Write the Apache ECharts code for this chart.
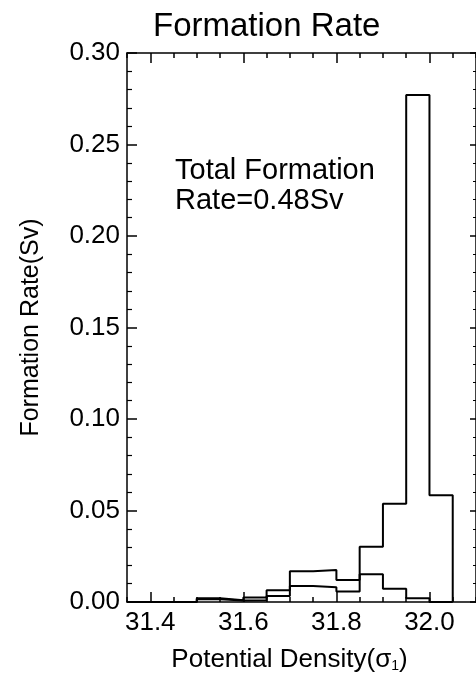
<!DOCTYPE html>
<html>
<head>
<meta charset="utf-8">
<script src="https://cdn.jsdelivr.net/npm/echarts@6/dist/echarts.min.js"></script>
<style>
html,body{margin:0;padding:0;background:#fff;}
#chart{width:476px;height:679px;}
</style>
</head>
<body>
<div id="chart"></div>
<script>
// ---- data ----
const binStarts = [31.35, 31.40, 31.45, 31.50, 31.55, 31.60, 31.65, 31.70, 31.75, 31.80, 31.85, 31.90, 31.95, 32.00];
const binWidth = 0.05;
const totalRate = [0, 0, 0, 0.002, 0.001, 0.0025, 0.0064, 0.0168, 0.0175, 0.012, 0.0302, 0.0537, 0.277, 0.0584];
const partRate  = [0, 0, 0, 0.0015, 0.0008, 0.001, 0.0033, 0.0087, 0.008, 0.0058, 0.0152, 0.0072, 0.002, 0];
const xMajorTicks = [31.4, 31.6, 31.8, 32.0];
const xMinorTicks = [31.35, 31.4, 31.45, 31.5, 31.55, 31.6, 31.65, 31.7, 31.75, 31.8, 31.85, 31.9, 31.95, 32.0, 32.05, 32.1];
const xMin = 31.35, xMax = 32.1;
const yMin = 0, yMax = 0.30, yStep = 0.05;

function stepData(vals) {
  const d = binStarts.map((x, i) => [x, vals[i]]);
  d.push([binStarts[binStarts.length - 1] + binWidth, 0]);
  return d;
}

const FONT = 'Liberation Sans';
const black = '#000';

const chart = echarts.init(document.getElementById('chart'), null, {renderer: 'canvas'});

function xAxisDef(pos, major, withLabel) {
  return {
    type: 'value', position: pos, min: xMin, max: xMax, gridIndex: 0,
    axisLine: {show: major, lineStyle: {color: black, width: 1.5}},
    axisTick: {show: true, inside: true, length: major ? 10 : 5, customValues: major ? xMajorTicks : xMinorTicks,
               lineStyle: {color: black, width: 1.5}},
    axisLabel: withLabel ? {show: true, customValues: xMajorTicks, formatter: v => v.toFixed(1),
               fontFamily: FONT, fontSize: 26, color: black, margin: 8} : {show: false},
    splitLine: {show: false},
    name: withLabel ? 'Potential Density(σ{sub|1})' : '',
    nameLocation: 'middle', nameGap: 45,
    nameTextStyle: {fontFamily: FONT, fontSize: 26, color: black, padding: [0, 24, 0, 0],
      rich: {sub: {fontFamily: FONT, fontSize: 14, color: black, verticalAlign: 'bottom', padding: [10, 0, 0, 0]}}}
  };
}

const option = {
  backgroundColor: '#fff',
  animation: false,
  title: {
    text: 'Formation Rate', left: 148, top: 5,
    textStyle: {fontFamily: FONT, fontSize: 33, fontWeight: 'normal', color: black}
  },
  grid: {left: 127, right: -5, top: 53, bottom: 77, containLabel: false},
  xAxis: [
    xAxisDef('bottom', true, true),
    xAxisDef('bottom', false, false),
    xAxisDef('top', true, false),
    xAxisDef('top', false, false)
  ],
  yAxis: [
    {
      type: 'value', position: 'left', min: yMin, max: yMax, interval: yStep,
      axisLine: {show: true, lineStyle: {color: black, width: 1.5}},
      axisTick: {show: true, inside: true, length: 10, lineStyle: {color: black, width: 1.5}},
      minorTick: {show: true, splitNumber: 5, length: 5, lineStyle: {color: black, width: 1.2}},
      axisLabel: {formatter: v => v.toFixed(2), fontFamily: FONT, fontSize: 26, color: black, margin: 7},
      splitLine: {show: false},
      name: 'Formation Rate(Sv)', nameLocation: 'middle', nameGap: 83,
      nameTextStyle: {fontFamily: FONT, fontSize: 25, color: black}
    },
    {
      type: 'value', position: 'right', min: yMin, max: yMax, interval: yStep,
      axisLine: {show: true, lineStyle: {color: black, width: 1.5}},
      axisTick: {show: true, inside: true, length: 6, lineStyle: {color: black, width: 1.5}},
      minorTick: {show: true, splitNumber: 5, length: 3, lineStyle: {color: black}},
      axisLabel: {show: false},
      splitLine: {show: false}
    }
  ],
  graphic: [{
    type: 'text', left: 175, top: 156,
    style: {text: 'Total Formation\nRate=0.48Sv', font: '29px "Liberation Sans"', lineHeight: 30, fill: black}
  }],
  series: [
    {
      type: 'line', step: 'end', xAxisIndex: 0, yAxisIndex: 0,
      data: stepData(totalRate), symbol: 'none',
      lineStyle: {color: black, width: 2}
    },
    {
      type: 'line', step: 'end', xAxisIndex: 0, yAxisIndex: 0,
      data: stepData(partRate), symbol: 'none',
      lineStyle: {color: black, width: 2}
    }
  ]
};
chart.setOption(option);
</script>
</body>
</html>
